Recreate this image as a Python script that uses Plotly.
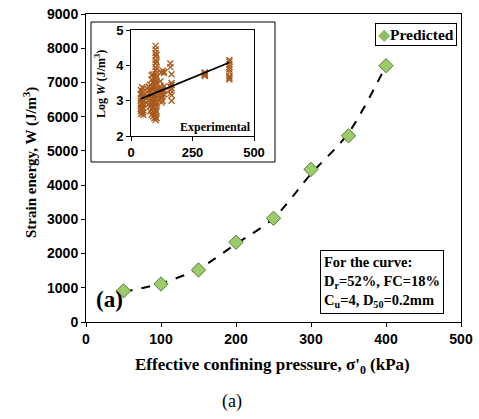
import plotly.graph_objects as go

W, H = 479, 419

# Main chart data (predicted)
pressure = [50, 100, 150, 200, 250, 300, 350, 400]
strain_energy = [910, 1110, 1520, 2330, 3030, 4460, 5440, 7490]

# Dashed fitted curve
curve_x = [50, 100, 150, 200, 250, 300, 350, 400]
curve_y = [880, 1130, 1550, 2280, 3030, 4330, 5520, 7490]

# Inset data (experimental, log W), read column by column
exp_x_a = [40, 40, 40, 40, 40, 40, 40, 40, 40, 45, 45, 45, 45, 45, 45, 45, 45, 50, 50, 50, 50, 50, 50, 50, 50, 50]
exp_y_a = [2.62, 2.70, 2.78, 2.85, 2.92, 3.00, 3.08, 3.18, 3.30, 2.65, 2.75, 2.88, 2.95, 3.05, 3.12, 3.22, 3.38,
           2.60, 2.68, 2.80, 2.90, 2.98, 3.10, 3.15, 3.25, 3.35]
exp_x_b = [72, 72, 72, 72, 72, 72, 78, 78, 78, 78, 78, 78, 78, 84, 84, 84, 84, 84, 84, 84, 84,
           90, 90, 90, 90, 90, 90, 90, 90, 90, 95, 95, 95, 95, 95, 95, 95, 95, 95]
exp_y_b = [2.90, 3.00, 3.10, 3.20, 3.30, 3.40, 2.70, 2.85, 2.95, 3.05, 3.15, 3.30, 3.45, 2.60, 2.75, 2.90, 3.00, 3.12, 3.25, 3.60, 3.72,
           2.55, 2.70, 2.82, 2.95, 3.08, 3.20, 3.35, 3.50, 3.75, 2.50, 2.65, 2.80, 2.92, 3.05, 3.18, 3.32, 3.48, 3.62]
exp_x_c = [100, 100, 100, 100, 100, 100, 100, 100, 100, 100, 100, 100, 100, 100, 100, 100, 100, 100, 100, 100, 100, 100,
           104, 104, 104, 104, 104, 104, 104, 104, 104, 104]
exp_y_c = [2.45, 2.55, 2.65, 2.75, 2.85, 2.95, 3.05, 3.15, 3.25, 3.35, 3.45, 3.55, 3.65, 3.75, 3.85, 3.95, 4.05, 4.15,
           4.25, 4.35, 4.45, 4.55, 2.50, 2.70, 2.90, 3.10, 3.30, 3.50, 3.70, 3.90, 4.10, 4.30]
exp_x_d = [120, 120, 120, 120, 120, 124, 124, 124, 124, 124, 124, 128, 128, 128, 128, 128, 134, 134, 134, 134, 134]
exp_y_d = [3.10, 3.20, 3.30, 3.40, 3.55, 2.95, 3.05, 3.15, 3.25, 3.35, 3.80, 3.00, 3.12, 3.22, 3.32, 3.85,
           3.18, 3.28, 3.40, 3.78, 3.82]
exp_x_e = [160, 160, 160, 160, 160, 165, 165, 165, 165, 165, 165]
exp_y_e = [3.20, 3.30, 3.40, 3.95, 4.05, 3.00, 3.15, 3.35, 3.50, 3.75, 3.45]
exp_x_f = [300, 300, 300, 300, 300]
exp_y_f = [3.70, 3.72, 3.75, 3.78, 3.80]
exp_x_g = [400, 400, 400, 400, 400, 400, 400, 400, 400]
exp_y_g = [3.60, 3.65, 3.70, 3.80, 3.88, 3.95, 4.02, 4.10, 4.15]

exp_x = exp_x_a + exp_x_b + exp_x_c + exp_x_d + exp_x_e + exp_x_f + exp_x_g
exp_y = exp_y_a + exp_y_b + exp_y_c + exp_y_d + exp_y_e + exp_y_f + exp_y_g

trend_x = [40, 400]
trend_y = [3.05, 4.08]

main_xticks = [0, 100, 200, 300, 400, 500]
main_yticks = [0, 1000, 2000, 3000, 4000, 5000, 6000, 7000, 8000, 9000]
inset_xticks = [0, 250, 500]
inset_yticks = [2, 3, 4, 5]

SERIF = "Liberation Serif, Times New Roman, serif"
SANS = "Liberation Sans Narrow, Liberation Sans, Arial, sans-serif"


def px(x):
    return x / W


def py(y):
    return 1 - y / H


fig = go.Figure()

# dashed fitted curve
fig.add_trace(go.Scatter(
    x=curve_x, y=curve_y, mode="lines",
    line=dict(color="black", width=2, dash="dash", shape="spline", smoothing=0.8),
    showlegend=False, hoverinfo="skip", xaxis="x", yaxis="y"))

fig.add_trace(go.Scatter(
    x=pressure, y=strain_energy, mode="markers", name="Predicted",
    marker=dict(symbol="diamond", size=11, color="#9BCB6B",
                line=dict(color="#5A7A3A", width=1)),
    showlegend=False, xaxis="x", yaxis="y"))

# inset
fig.add_trace(go.Scatter(
    x=exp_x, y=exp_y, mode="markers",
    marker=dict(symbol="x-thin", size=6, color="#A85A1C",
                line=dict(color="#A85A1C", width=1.3)),
    showlegend=False, xaxis="x2", yaxis="y2"))
fig.add_trace(go.Scatter(
    x=trend_x, y=trend_y, mode="lines",
    line=dict(color="black", width=1.8),
    showlegend=False, xaxis="x2", yaxis="y2"))

axis_common = dict(showline=True, mirror=True, linecolor="black", linewidth=1,
                   ticks="outside", ticklen=4, tickcolor="black", showgrid=False,
                   zeroline=False, automargin=False)

fig.update_layout(
    width=W, height=H,
    margin=dict(l=0, r=0, t=0, b=0, autoexpand=False),
    paper_bgcolor="white", plot_bgcolor="white",
    xaxis=dict(domain=[px(86), px(461)], range=[0, 500], tickvals=main_xticks,
               tickfont=dict(family=SANS, size=14, color="black", weight="bold"),
               anchor="y", **axis_common),
    yaxis=dict(domain=[py(322), py(14)], range=[0, 9000], tickvals=main_yticks,
               tickfont=dict(family=SANS, size=14, color="black", weight="bold"),
               anchor="x", **axis_common),
    xaxis2=dict(domain=[px(131), px(254)], range=[0, 500], tickvals=inset_xticks,
                tickfont=dict(family=SANS, size=13, color="black", weight="bold"),
                anchor="y2", **axis_common),
    yaxis2=dict(domain=[py(136), py(30)], range=[2, 5], tickvals=inset_yticks,
                tickfont=dict(family=SANS, size=13, color="black", weight="bold"),
                anchor="x2", **axis_common),
    showlegend=False,
)

# inset frame
fig.add_shape(type="rect", xref="paper", yref="paper",
              x0=px(91), x1=px(275), y0=py(162), y1=py(22),
              fillcolor="white", line=dict(color="black", width=1), layer="below")

ann = []
ann.append(dict(text="<b>Strain energy, W (J/m<sup>3</sup>)</b>", x=px(30), y=py(163),
                textangle=-90, font=dict(family=SERIF, size=15, color="black")))
ann.append(dict(text="<b>Effective confining pressure, σ'<sub>0</sub> (kPa)</b>", x=px(272), y=py(366),
                font=dict(family=SERIF, size=17, color="black")))
ann.append(dict(text="(a)", x=px(232), y=py(401), font=dict(family=SERIF, size=18, color="black")))
ann.append(dict(text="<b>(a)</b>", x=px(109), y=py(299), font=dict(family=SERIF, size=23, color="black")))
ann.append(dict(text="<b>Log <i>W</i> (J/m<sup>3</sup>)</b>", x=px(101), y=py(84),
                textangle=-90, font=dict(family=SERIF, size=12, color="black")))
ann.append(dict(text="<b>Experimental</b>", x=px(215), y=py(127),
                font=dict(family=SERIF, size=12, color="black")))
ann.append(dict(text="<b>For the curve:<br>D<sub>r</sub>=52%, FC=18%<br>C<sub>u</sub>=4, D<sub>50</sub>=0.2mm</b>",
                x=px(382), y=py(282), align="left",
                bordercolor="black", borderwidth=1, bgcolor="white", borderpad=3,
                font=dict(family=SERIF, size=14.5, color="black")))
# legend box for the "Predicted" series
ann.append(dict(text="<span style='color:#8DC060'>◆</span><b>Predicted</b>",
                x=px(416), y=py(35), bordercolor="black", borderwidth=1, bgcolor="white",
                borderpad=2, font=dict(family=SERIF, size=15.5, color="black")))
for a in ann:
    a.update(xref="paper", yref="paper", showarrow=False, xanchor="center", yanchor="middle")
    fig.add_annotation(**a)

fig.write_html("out.html")
